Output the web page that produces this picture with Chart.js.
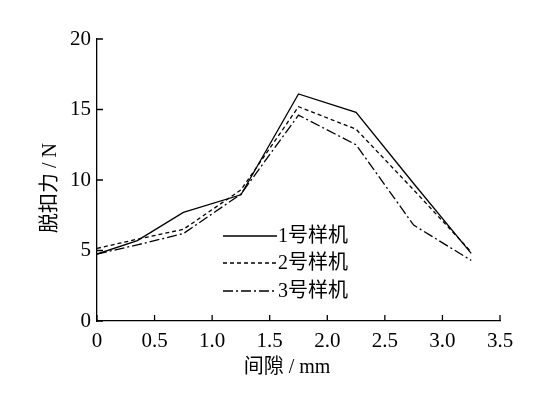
<!DOCTYPE html>
<html>
<head>
<meta charset="utf-8">
<script src="https://cdn.jsdelivr.net/npm/chart.js@4"></script>
<style>
    html, body { margin: 0; padding: 0; background: #ffffff; }
    #wrap { width: 541px; height: 393px; }
</style>
</head>
<body>
<div id="wrap"><canvas id="myLineChart"></canvas></div>
<script>
// gap values (mm) and pull-off force (N) for each sample
const gaps = [0, 0.35, 0.75, 1.25, 1.75, 2.25, 2.75, 3.25];
const sample1 = [4.75, 5.7, 7.7, 8.95, 16.1, 14.8, 9.75, 4.8];
const sample2 = [5.15, 5.8, 6.5, 9.3, 15.2, 13.6, 9.3, 4.9];
const sample3 = [4.75, 5.4, 6.2, 9.0, 14.6, 12.5, 6.8, 4.3];
const seriesNames = ['1号样机', '2号样机', '3号样机'];
const xTitle = '间隙 / mm';
const yTitle = '脱扣力 / N';

const fontFamily = '"Liberation Serif", "Noto Sans CJK SC", serif';

function toPoints(values) {
    return gaps.map(function(g, i) { return { x: g, y: values[i] }; });
}

// ticks pointing into the plot, legend inside the plot, axis titles
const decorPlugin = {
    id: 'decor',
    afterDraw: function(chart) {
        const ctx = chart.ctx;
        const area = chart.chartArea;
        const xs = chart.scales.x;
        const ys = chart.scales.y;
        ctx.save();
        ctx.strokeStyle = '#000';
        ctx.lineWidth = 1.3;
        ctx.beginPath();
        xs.ticks.forEach(function(t) {
            const px = xs.getPixelForValue(t.value);
            ctx.moveTo(px, area.bottom);
            ctx.lineTo(px, area.bottom - 6);
        });
        ys.ticks.forEach(function(t) {
            const py = ys.getPixelForValue(t.value);
            ctx.moveTo(area.left, py);
            ctx.lineTo(area.left + 6, py);
        });
        ctx.stroke();

        // legend
        const rows = [236, 263, 291];
        ctx.font = '20px ' + fontFamily;
        ctx.fillStyle = '#000';
        ctx.textBaseline = 'middle';
        ctx.textAlign = 'left';
        chart.data.datasets.forEach(function(ds, i) {
            ctx.beginPath();
            ctx.lineWidth = ds.borderWidth;
            ctx.setLineDash(ds.borderDash || []);
            ctx.moveTo(223, rows[i]);
            ctx.lineTo(277, rows[i]);
            ctx.stroke();
            ctx.setLineDash([]);
            ctx.fillText(ds.label, 278, rows[i] + 1);
        });

        // axis titles
        ctx.font = '20px ' + fontFamily;
        ctx.textAlign = 'center';
        ctx.fillText(xTitle, 287, 368);
        ctx.translate(51, 188);
        ctx.rotate(-Math.PI / 2);
        ctx.fillText(yTitle, 0, 0);
        ctx.restore();
    }
};

document.addEventListener('DOMContentLoaded', function() {
    var ctx = document.getElementById('myLineChart').getContext('2d');
    var myLineChart = new Chart(ctx, {
        type: 'line',
        data: {
            datasets: [{
                label: seriesNames[0],
                data: toPoints(sample1),
                borderColor: '#000',
                borderWidth: 1.3,
                borderDash: []
            }, {
                label: seriesNames[1],
                data: toPoints(sample2),
                borderColor: '#000',
                borderWidth: 1.3,
                borderDash: [4, 3]
            }, {
                label: seriesNames[2],
                data: toPoints(sample3),
                borderColor: '#000',
                borderWidth: 1.3,
                borderDash: [10, 3, 2, 3]
            }]
        },
        options: {
            responsive: true,
            maintainAspectRatio: false,
            animation: false,
            elements: { point: { radius: 0 }, line: { tension: 0 } },
            layout: { padding: { left: 0, right: 41, top: 39, bottom: 0 } },
            plugins: {
                legend: { display: false },
                tooltip: { enabled: false }
            },
            scales: {
                x: {
                    type: 'linear',
                    min: 0,
                    max: 3.5,
                    afterFit: function(scale) { scale.height = 72; },
                    border: { display: true, color: '#000', width: 1.3 },
                    grid: { drawOnChartArea: false, drawTicks: false },
                    ticks: {
                        stepSize: 0.5,
                        padding: 8,
                        color: '#000',
                        font: { family: fontFamily, size: 21 },
                        callback: function(v) { return v === 0 ? '0' : v.toFixed(1); }
                    }
                },
                y: {
                    min: 0,
                    max: 20,
                    afterFit: function(scale) { scale.width = 97; },
                    border: { display: true, color: '#000', width: 1.3 },
                    grid: { drawOnChartArea: false, drawTicks: false },
                    ticks: {
                        stepSize: 5,
                        padding: 6,
                        color: '#000',
                        font: { family: fontFamily, size: 21 }
                    }
                }
            }
        },
        plugins: [decorPlugin]
    });
});
</script>
</body>
</html>
